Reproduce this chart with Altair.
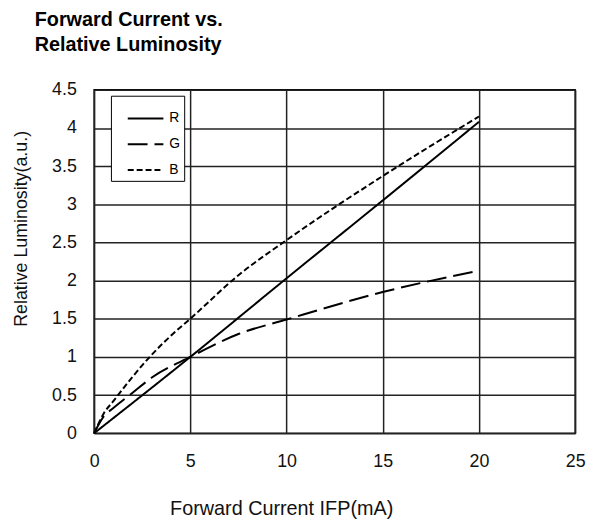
import altair as alt
import pandas as pd

# ---- data ----
series_names = ["R", "G", "B"]
current_r = [0, 5, 10, 15, 20]
lum_r = [0, 1.0, 2.03, 3.05, 4.08]
current_g = [0, 0.5, 1, 2, 3, 5, 7.5, 10, 15, 20]
lum_g = [0, 0.22, 0.33, 0.53, 0.73, 1.0, 1.3, 1.49, 1.85, 2.13]
current_b = [0, 0.5, 1, 2, 3, 4, 5, 7.5, 10, 15, 20]
lum_b = [0, 0.26, 0.42, 0.74, 1.03, 1.28, 1.5, 2.07, 2.53, 3.37, 4.15]
x_ticks = [0, 5, 10, 15, 20, 25]
y_ticks = [0, 0.5, 1, 1.5, 2, 2.5, 3, 3.5, 4, 4.5]

rows = []
for name, xs, ys in [("R", current_r, lum_r), ("G", current_g, lum_g), ("B", current_b, lum_b)]:
    for i, (a, b) in enumerate(zip(xs, ys)):
        rows.append({"series": name, "current": a, "lum": b, "order": i})
df = pd.DataFrame(rows)

FONT = "Liberation Sans"

chart = (
    alt.Chart(df)
    .mark_line(color="black", strokeWidth=2, interpolate="monotone")
    .encode(
        x=alt.X(
            "current:Q",
            scale=alt.Scale(domain=[0, 25], nice=False),
            axis=alt.Axis(
                values=x_ticks,
                format="~g",
                labelFlush=False,
                title="Forward Current IFP(mA)",
                titleX=189,
                titleAlign="center",
                titleFontSize=20,
                titlePadding=28,
                labelPadding=20,
            ),
        ),
        y=alt.Y(
            "lum:Q",
            scale=alt.Scale(domain=[0, 4.5], nice=False),
            axis=alt.Axis(
                values=y_ticks,
                format="~g",
                labelFlush=False,
                title="Relative Luminosity(a.u.)",
                titleY=140,
                titleAlign="center",
                titlePadding=21,
                labelPadding=18,
            ),
        ),
        strokeDash=alt.StrokeDash(
            "series:N",
            scale=alt.Scale(domain=series_names, range=[[1, 0], [20, 7], [6, 3]]),
            legend=alt.Legend(
                title=None,
                orient="none",
                legendX=17,
                legendY=6,
                symbolType="stroke",
                symbolSize=1296,
                symbolStrokeWidth=2,
                symbolStrokeColor="black",
                padding=4,
                symbolOffset=12,
                labelOffset=5,
                rowPadding=0,
                labelFont=FONT,
                labelFontSize=14,
                labelColor="black",
                strokeColor="black",
                fillColor="white",
            ),
        ),
        order="order:Q",
    )
    .properties(
        width=486,
        height=347,
        autosize=alt.AutoSizeParams(type="none"),
        padding={"left": 87, "top": 80, "right": 15, "bottom": 84},
        title=alt.TitleParams(
            text=["Forward Current vs.", "Relative Luminosity"],
            anchor="start",
            frame="group",
            dx=-60,
            offset=26,
            font=FONT,
            fontSize=20,
            fontWeight="bold",
            lineHeight=25,
            color="black",
        ),
    )
    .configure_view(stroke="black", strokeWidth=1.5)
    .configure_axis(
        grid=True,
        gridColor="#222222",
        gridWidth=1.5,
        gridOpacity=1,
        domain=False,
        ticks=False,
        labelFont=FONT,
        labelFontSize=18,
        labelColor="#111111",
        titleFont=FONT,
        titleFontSize=18,
        titleFontWeight="normal",
        titleColor="#111111",
    )
    .configure_legend(symbolType="stroke")
)

chart.save("out.html", embed_options={"renderer": "svg", "actions": False})
